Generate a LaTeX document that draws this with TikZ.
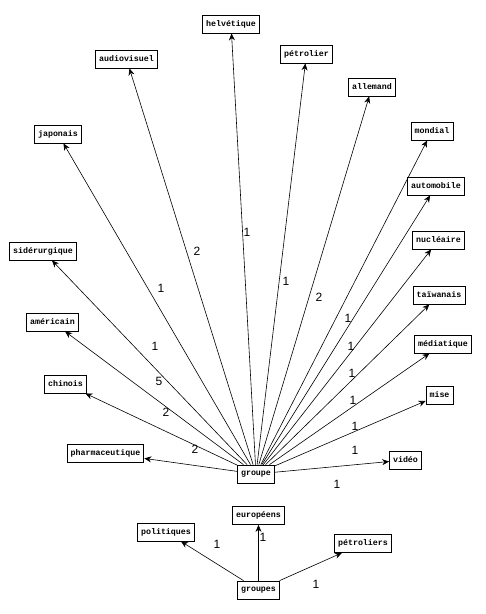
\documentclass[tikz,border=0pt]{standalone}
\usepackage{fontspec}
\setmainfont{Liberation Sans}
\newfontfamily\boxfont{Liberation Mono}
\usetikzlibrary{arrows.meta}

\tikzset{
  word/.style={draw,rectangle,font=\boxfont\bfseries\fontsize{8.3}{9}\selectfont,inner xsep=3.5pt,inner ysep=0pt,minimum height=18pt,line width=0.8pt},
  link/.style={-{Stealth[length=7pt,width=6pt]},line width=0.6pt},
  weight/.style={font=\fontsize{12}{12}\selectfont,inner sep=0pt}
}

\begin{document}
\begin{tikzpicture}[x=1pt,y=-1pt]
    \useasboundingbox (0,0) rectangle (486,614);
    % words around groupe
    \node[word] (helvetique) at (231,24) {helvétique};
    \node[word] (audiovisuel) at (126.5,59) {audiovisuel};
    \node[word] (petrolier) at (306.5,54) {pétrolier};
    \node[word] (allemand) at (372,87) {allemand};
    \node[word] (japonais) at (58,134) {japonais};
    \node[word] (mondial) at (432,131) {mondial};
    \node[word] (automobile) at (436,186) {automobile};
    \node[word] (siderurgique) at (43,251) {sidérurgique};
    \node[word] (nucleaire) at (438.5,240) {nucléaire};
    \node[word] (americain) at (52.5,322) {américain};
    \node[word] (taiwanais) at (439,295) {taïwanais};
    \node[word] (mediatique) at (443,344) {médiatique};
    \node[word] (chinois) at (65.5,384) {chinois};
    \node[word] (mise) at (439.5,395) {mise};
    \node[word] (pharmaceutique) at (105.5,453) {pharmaceutique};
    \node[word] (video) at (405.5,460) {vidéo};
    \node[word] (groupe) at (256,474) {groupe};
    % words around groupes
    \node[word] (europeens) at (258.5,515.5) {européens};
    \node[word] (politiques) at (166,532) {politiques};
    \node[word] (petroliers) at (363,543.5) {pétroliers};
    \node[word] (groupes) at (258.5,590) {groupes};
    \draw[link] (groupe) -- (helvetique) node[weight] at (247,232) {1};
    \draw[link] (groupe) -- (audiovisuel) node[weight] at (197,251) {2};
    \draw[link] (groupe) -- (petrolier) node[weight] at (286,281) {1};
    \draw[link] (groupe) -- (allemand) node[weight] at (319,297) {2};
    \draw[link] (groupe) -- (japonais) node[weight] at (161,288) {1};
    \draw[link] (groupe) -- (mondial) node[weight] at (348,318) {1};
    \draw[link] (groupe) -- (automobile) node[weight] at (351,346) {1};
    \draw[link] (groupe) -- (siderurgique) node[weight] at (155,346) {1};
    \draw[link] (groupe) -- (nucleaire) node[weight] at (352,373) {1};
    \draw[link] (groupe) -- (americain) node[weight] at (159,381) {5};
    \draw[link] (groupe) -- (taiwanais) node[weight] at (353,400) {1};
    \draw[link] (groupe) -- (chinois) node[weight] at (166,412) {2};
    \draw[link] (groupe) -- (mediatique) node[weight] at (355,426) {1};
    \draw[link] (groupe) -- (pharmaceutique) node[weight] at (195,449) {2};
    \draw[link] (groupe) -- (mise) node[weight] at (355,450) {1};
    \draw[link] (groupe) -- (video) node[weight] at (337,484) {1};
    \draw[link] (groupes) -- (politiques) node[weight] at (217,544) {1};
    \draw[link] (groupes) -- (europeens) node[weight] at (263,537) {1};
    \draw[link] (groupes) -- (petroliers) node[weight] at (316,584) {1};
\end{tikzpicture}
\end{document}
